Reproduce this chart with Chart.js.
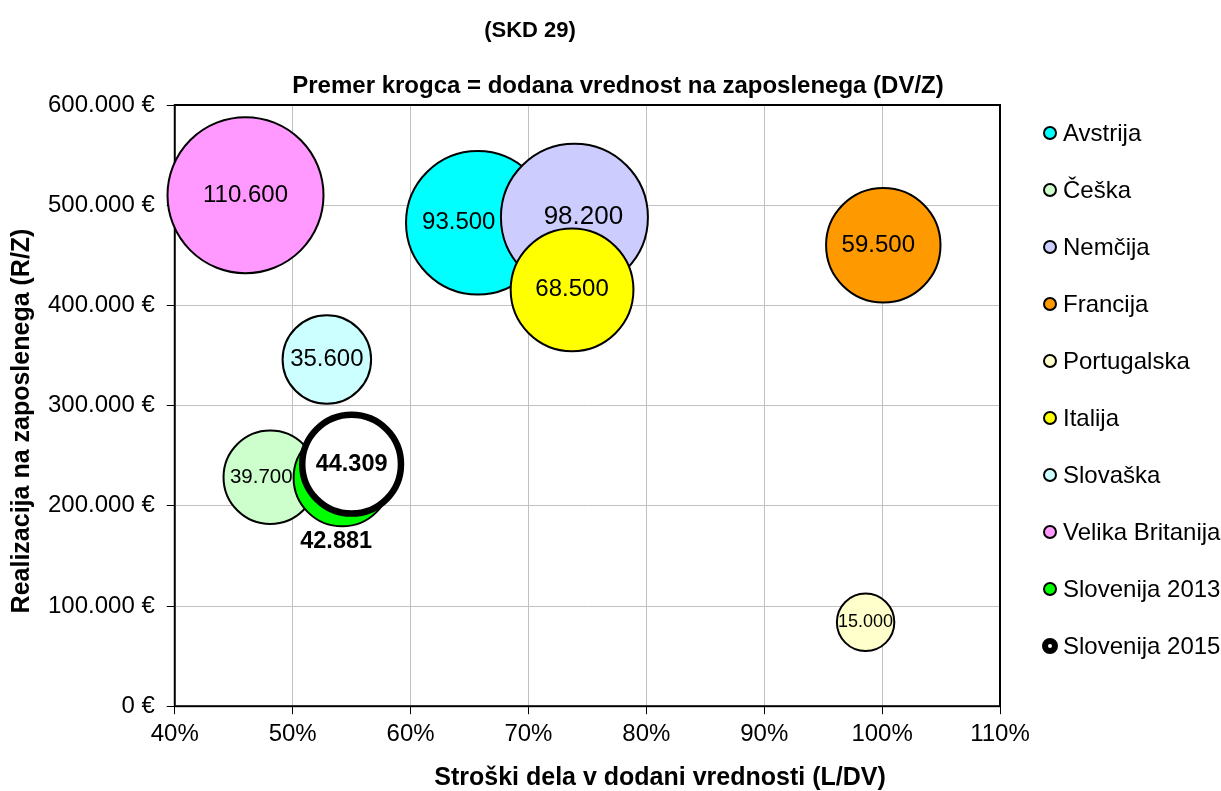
<!DOCTYPE html>
<html>
<head>
<meta charset="utf-8">
<script src="https://cdn.jsdelivr.net/npm/chart.js@4.4.1/dist/chart.umd.min.js"></script>
<style>
  body { margin: 0; background: #fff; }
  #wrap { position: relative; width: 1221px; height: 791px; }
  #legend {
    position: absolute; left: 1043px; top: 104px;
    font: 24px 'Liberation Sans', Arial, sans-serif; color: #000;
  }
  .item { height: 57.1px; display: flex; align-items: center; white-space: nowrap; }
  .mark { width: 14px; height: 14px; box-sizing: border-box; border: 2px solid #000; border-radius: 50%; margin-right: 6px; }
</style>
</head>
<body>
<div id="wrap">
  <canvas id="chart" width="1221" height="791"></canvas>
  <div id="legend"></div>
</div>
<script>
// Bubble chart: labour cost share vs revenue per employee, bubble = value added per employee
const countries = ['Avstrija', 'Češka', 'Nemčija', 'Francija', 'Portugalska', 'Italija', 'Slovaška', 'Velika Britanija', 'Slovenija 2013', 'Slovenija 2015'];
const laborShare = [65.7, 48.1, 73.9, 100.1, 98.6, 73.7, 52.9, 46.0, 54.2, 55.0];          // L/DV in %
const revenuePerEmployee = [482500, 228500, 488000, 460000, 83700, 415500, 346000, 510000, 228000, 241500]; // R/Z
const valueAdded = [93500, 39700, 98200, 59500, 15000, 68500, 35600, 110600, 42881, 44309]; // DV/Z
const fillColors = ['#00ffff', '#ccffcc', '#ccccff', '#ff9900', '#ffffcc', '#ffff00', '#ccffff', '#ff99ff', '#00ff00', '#ffffff'];

const xTicks = [40, 50, 60, 70, 80, 90, 100, 110];
const yTicks = [0, 100000, 200000, 300000, 400000, 500000, 600000];

const FONT = "'Liberation Sans', Arial, sans-serif";
const MAX_R = 78;
const maxValue = Math.max(...valueAdded);

function thousands(v) {
    return String(v).replace(/\B(?=(\d{3})+(?!\d))/g, '.');
}

// label styling per bubble (offsets in px, font size)
const labelStyle = {
    0: { dx: -19 },
    1: { dx: -9, size: 20.5 },
    2: { dx: 9, size: 26 },
    3: { dx: -5 },
    4: { size: 18 },
    8: { bold: true, below: true, dx: -6, size: 23.5 },
    9: { bold: true, size: 23.5 }
};

const datasets = countries.map((name, i) => ({
    label: name,
    data: [{ x: laborShare[i], y: revenuePerEmployee[i], r: MAX_R * Math.sqrt(valueAdded[i] / maxValue) }],
    backgroundColor: fillColors[i],
    borderColor: '#000',
    borderWidth: i === 9 ? 6.5 : 2,
    order: -i,
    clip: false
}));

const bubbleLabels = {
    id: 'bubbleLabels',
    afterDatasetsDraw(chart) {
        const ctx = chart.ctx;
        ctx.save();
        ctx.fillStyle = '#000';
        ctx.textAlign = 'center';
        ctx.textBaseline = 'middle';
        chart.data.datasets.forEach((ds, i) => {
            const el = chart.getDatasetMeta(i).data[0];
            const st = labelStyle[i] || {};
            const size = st.size || 24;
            ctx.font = (st.bold ? 'bold ' : '') + size + 'px ' + FONT;
            let y = el.y;
            if (st.below) y = el.y + el.options.radius + 15;
            ctx.fillText(thousands(valueAdded[i]), el.x + (st.dx || 0), y);
        });
        ctx.restore();
    }
};

// plot frame plus the titles (Excel places them off-centre)
const frameAndTitles = {
    id: 'frameAndTitles',
    beforeDatasetsDraw(chart) {
        const { ctx, chartArea } = chart;
        ctx.save();
        ctx.strokeStyle = '#000';
        ctx.lineWidth = 2;
        ctx.strokeRect(chartArea.left, chartArea.top, chartArea.right - chartArea.left, chartArea.bottom - chartArea.top);
        ctx.restore();
    },
    afterDraw(chart) {
        const ctx = chart.ctx;
        ctx.save();
        ctx.fillStyle = '#000';
        ctx.textAlign = 'center';
        ctx.textBaseline = 'middle';
        ctx.font = 'bold 22px ' + FONT;
        ctx.fillText('(SKD 29)', 530, 31);
        ctx.font = 'bold 24px ' + FONT;
        ctx.fillText('Premer krogca = dodana vrednost na zaposlenega (DV/Z)', 618, 86);
        ctx.font = 'bold 25px ' + FONT;
        ctx.fillText('Stroški dela v dodani vrednosti (L/DV)', 660, 778);
        ctx.translate(22, 421);
        ctx.rotate(-Math.PI / 2);
        ctx.fillText('Realizacija na zaposlenega (R/Z)', 0, 0);
        ctx.restore();
    }
};

new Chart(document.getElementById('chart'), {
    type: 'bubble',
    data: { datasets },
    options: {
        responsive: false,
        animation: false,
        events: [],
        layout: { padding: { left: 36, right: 221, top: 105, bottom: 36 } },
        plugins: {
            legend: { display: false },
            tooltip: { enabled: false },
            title: { display: false }
        },
        scales: {
            x: {
                type: 'linear',
                min: xTicks[0],
                max: xTicks[xTicks.length - 1],
                afterBuildTicks: (axis) => { axis.ticks = xTicks.map(v => ({ value: v })); },
                ticks: {
                    color: '#000',
                    font: { family: FONT, size: 24 },
                    padding: 6,
                    callback: (v) => v + '%'
                },
                grid: { color: '#c0c0c0', tickColor: '#000', tickLength: 8 },
                border: { display: false }
            },
            y: {
                type: 'linear',
                min: yTicks[0],
                max: yTicks[yTicks.length - 1],
                afterBuildTicks: (axis) => { axis.ticks = yTicks.map(v => ({ value: v })); },
                ticks: {
                    color: '#000',
                    font: { family: FONT, size: 24 },
                    padding: 12,
                    callback: (v) => thousands(v) + ' €'
                },
                grid: { color: '#c0c0c0', tickColor: '#000', tickLength: 8 },
                border: { display: false }
            }
        }
    },
    plugins: [frameAndTitles, bubbleLabels]
});

// legend as HTML, built from the same arrays
const legend = document.getElementById('legend');
countries.forEach((name, i) => {
    const item = document.createElement('div');
    item.className = 'item';
    const mark = document.createElement('span');
    mark.className = 'mark';
    mark.style.background = fillColors[i];
    if (i === 9) {
        mark.style.width = '16px';
        mark.style.height = '16px';
        mark.style.borderWidth = '6px';
        mark.style.marginLeft = '-1px';
        mark.style.marginRight = '5px';
    }
    const label = document.createElement('span');
    label.textContent = name;
    item.appendChild(mark);
    item.appendChild(label);
    legend.appendChild(item);
});
</script>
</body>
</html>
